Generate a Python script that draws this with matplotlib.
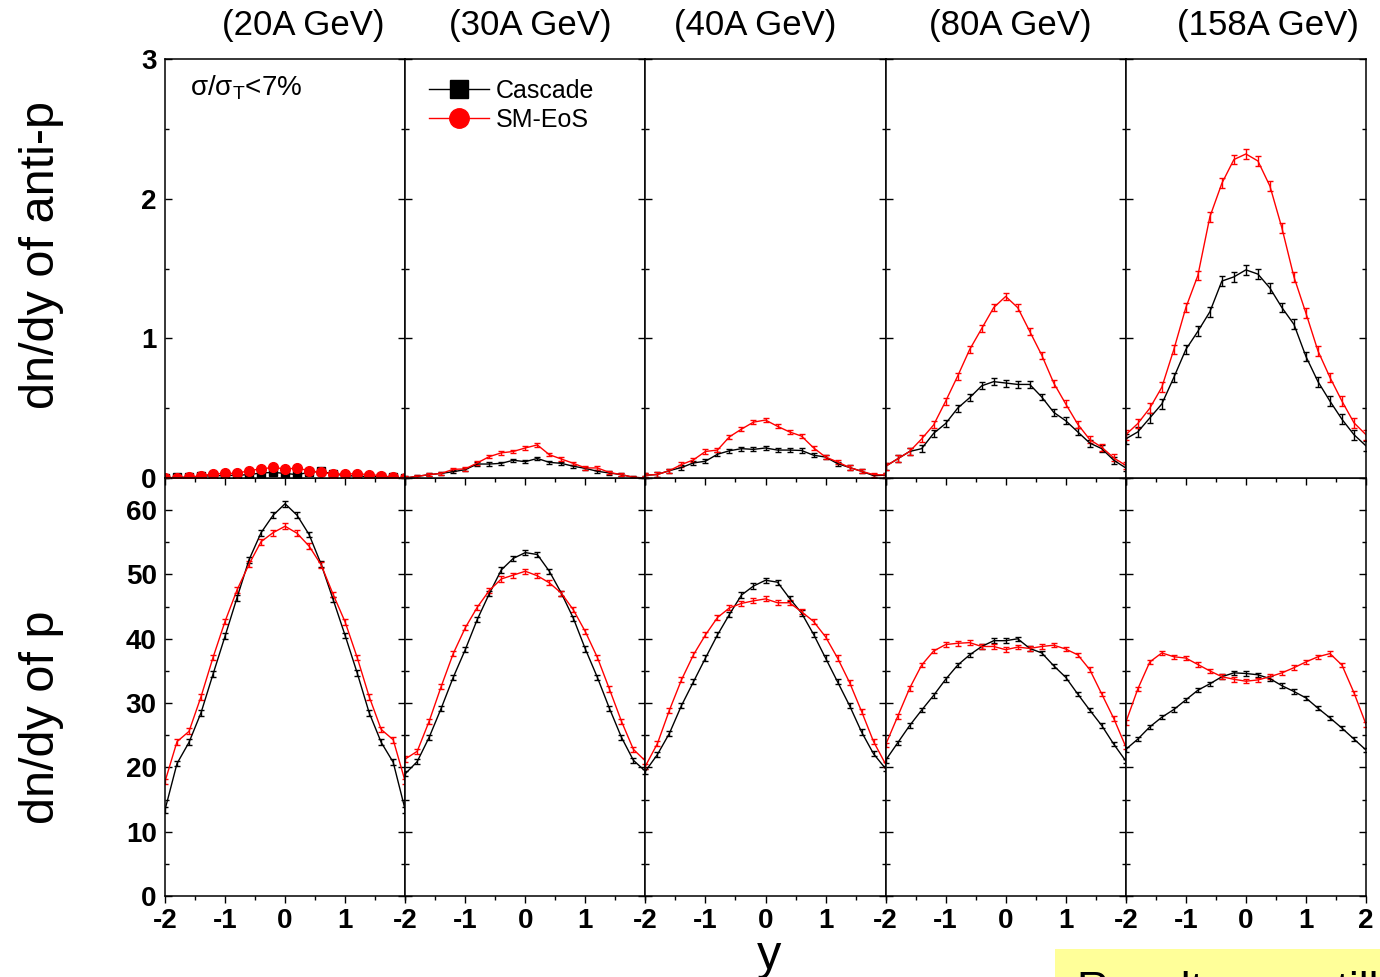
import matplotlib
matplotlib.use('Agg')
import matplotlib.pyplot as plt
from matplotlib.ticker import MultipleLocator, FixedLocator
from matplotlib.lines import Line2D

plt.rcParams['font.family'] = ['Liberation Sans', 'DejaVu Sans']
plt.rcParams['mathtext.fontset'] = 'custom'
plt.rcParams['mathtext.rm'] = 'Liberation Sans'
plt.rcParams['mathtext.it'] = 'Liberation Sans:italic'
plt.rcParams['axes.unicode_minus'] = False

# ---------------- data ----------------
rapidity = [-2.0, -1.8, -1.6, -1.4, -1.2, -1.0, -0.8, -0.6, -0.4, -0.2, 0.0,
            0.2, 0.4, 0.6, 0.8, 1.0, 1.2, 1.4, 1.6, 1.8, 2.0]
energies = ['(20A GeV)', '(30A GeV)', '(40A GeV)', '(80A GeV)', '(158A GeV)']

# anti-proton dn/dy (top row)
pbar_cas_20 = [0.0, 0.005, 0.005, 0.012, 0.017, 0.017, 0.02, 0.024, 0.036, 0.04, 0.033,
               0.024, 0.04, 0.048, 0.029, 0.017, 0.014, 0.01, 0.01, 0.005, 0.0]
pbar_sm_20 = [0.0, 0.003, 0.005, 0.017, 0.029, 0.033, 0.033, 0.053, 0.065, 0.076, 0.065,
              0.07, 0.053, 0.04, 0.029, 0.029, 0.03, 0.024, 0.017, 0.005, 0.0]
pbar_cas_30 = [0.0, 0.012, 0.024, 0.033, 0.045, 0.06, 0.10, 0.10, 0.105, 0.127, 0.117,
               0.14, 0.112, 0.105, 0.084, 0.069, 0.048, 0.036, 0.024, 0.005, 0.0]
pbar_sm_30 = [0.0, 0.012, 0.024, 0.033, 0.062, 0.065, 0.108, 0.153, 0.18, 0.19, 0.215,
              0.237, 0.167, 0.136, 0.105, 0.072, 0.072, 0.04, 0.024, 0.005, 0.0]
pbar_cas_40 = [0.02, 0.025, 0.053, 0.075, 0.108, 0.12, 0.17, 0.195, 0.21, 0.205, 0.215,
               0.20, 0.20, 0.197, 0.163, 0.15, 0.103, 0.075, 0.048, 0.017, 0.02]
pbar_sm_40 = [0.02, 0.025, 0.053, 0.096, 0.13, 0.19, 0.20, 0.295, 0.35, 0.40, 0.415,
              0.37, 0.33, 0.30, 0.216, 0.15, 0.115, 0.075, 0.048, 0.024, 0.022]
pbar_cas_80 = [0.084, 0.137, 0.19, 0.21, 0.32, 0.39, 0.50, 0.575, 0.66, 0.69, 0.68,
               0.67, 0.67, 0.58, 0.47, 0.41, 0.33, 0.25, 0.21, 0.127, 0.072]
pbar_sm_80 = [0.084, 0.137, 0.19, 0.28, 0.38, 0.55, 0.73, 0.92, 1.07, 1.22, 1.30,
              1.22, 1.05, 0.88, 0.68, 0.53, 0.385, 0.275, 0.22, 0.144, 0.09]
pbar_cas_158 = [0.28, 0.33, 0.43, 0.53, 0.72, 0.92, 1.05, 1.19, 1.41, 1.44, 1.49,
                1.46, 1.36, 1.22, 1.10, 0.87, 0.69, 0.55, 0.42, 0.31, 0.23]
pbar_sm_158 = [0.31, 0.39, 0.50, 0.65, 0.92, 1.22, 1.45, 1.87, 2.11, 2.28, 2.32,
               2.27, 2.09, 1.79, 1.44, 1.18, 0.91, 0.72, 0.55, 0.395, 0.31]

# proton dn/dy (bottom row)
p_cas_20 = [13.4, 20.6, 23.9, 28.5, 34.5, 40.4, 46.4, 52.3, 56.5, 59.2, 61.0,
            59.2, 56.2, 51.6, 46.1, 40.5, 34.7, 28.5, 23.9, 20.8, 13.4]
p_sm_20 = [17.8, 24.0, 25.6, 31.0, 37.1, 42.7, 47.6, 51.6, 55.1, 56.5, 57.5,
           56.4, 54.4, 51.5, 46.9, 42.6, 37.1, 31.0, 25.9, 24.3, 17.8]
p_cas_30 = [19.0, 20.9, 24.7, 29.2, 34.0, 38.3, 43.0, 47.0, 50.7, 52.5, 53.4,
            53.1, 50.5, 47.1, 43.2, 38.4, 34.0, 29.2, 24.7, 21.1, 19.4]
p_sm_30 = [21.3, 22.5, 27.2, 32.6, 37.7, 41.7, 44.9, 47.5, 49.3, 49.9, 50.5,
           49.8, 48.7, 47.1, 44.5, 41.1, 37.1, 32.2, 27.2, 22.8, 21.0]
p_cas_40 = [19.4, 22.0, 25.3, 29.6, 33.3, 37.0, 40.6, 43.8, 46.8, 48.2, 49.1,
            48.8, 46.3, 44.0, 40.7, 37.0, 33.3, 29.6, 25.5, 22.1, 19.8]
p_sm_40 = [20.2, 23.7, 28.9, 33.6, 37.5, 40.6, 43.3, 44.8, 45.5, 45.9, 46.2,
           45.6, 45.6, 44.2, 42.7, 40.3, 37.0, 33.2, 28.7, 24.0, 20.5]
p_cas_80 = [21.1, 23.8, 26.5, 28.9, 31.2, 33.7, 35.9, 37.5, 38.8, 39.7, 39.7,
            40.0, 38.5, 37.8, 35.8, 34.0, 31.4, 28.9, 26.5, 23.6, 21.0]
p_sm_80 = [23.5, 27.9, 32.3, 35.9, 38.1, 39.1, 39.3, 39.4, 38.8, 38.8, 38.3,
           38.7, 38.5, 38.8, 39.0, 38.4, 37.5, 35.2, 31.4, 27.6, 23.2]
p_cas_158 = [22.8, 24.4, 26.3, 27.8, 29.0, 30.5, 32.0, 33.0, 34.1, 34.7, 34.6,
             34.4, 33.8, 32.7, 31.8, 30.8, 29.2, 27.7, 26.1, 24.4, 22.7]
p_sm_158 = [27.0, 32.2, 36.4, 37.8, 37.2, 37.0, 36.0, 35.0, 34.1, 33.7, 33.4,
            33.6, 34.1, 34.7, 35.5, 36.4, 37.2, 37.7, 35.9, 31.6, 26.7]

# statistical errors (approximate, per panel)
pbar_err = [0.01, 0.012, 0.015, 0.025, 0.035]
p_err = [0.45, 0.4, 0.4, 0.35, 0.35]

pbar_cas = [pbar_cas_20, pbar_cas_30, pbar_cas_40, pbar_cas_80, pbar_cas_158]
pbar_sm = [pbar_sm_20, pbar_sm_30, pbar_sm_40, pbar_sm_80, pbar_sm_158]
p_cas = [p_cas_20, p_cas_30, p_cas_40, p_cas_80, p_cas_158]
p_sm = [p_sm_20, p_sm_30, p_sm_40, p_sm_80, p_sm_158]

# ---------------- figure ----------------
W, H = 1380, 977
fig = plt.figure(figsize=(W / 100, H / 100), dpi=100)

edges = [165, 405.2, 645.4, 885.6, 1125.8, 1366]
TOP_T, MID, BOT_B = 59, 478, 896


def rect(x0, x1, yt, yb):
    return [x0 / W, 1 - yb / H, (x1 - x0) / W, (yb - yt) / H]


RED = '#ff0000'


def style(ax, first):
    for s in ax.spines.values():
        s.set_linewidth(1.1)
        s.set_color('black')
    ax.tick_params(axis='y', which='both', direction='in', left=True, right=True,
                   width=1)
    ax.tick_params(axis='y', which='major', length=5)
    ax.tick_params(axis='y', which='minor', length=3)
    ax.tick_params(axis='x', which='both', direction='out', bottom=True, top=False,
                   width=1)
    ax.tick_params(axis='x', which='major', length=5)
    ax.tick_params(axis='x', which='minor', length=3)
    ax.tick_params(labelleft=first)
    for lab in ax.get_xticklabels() + ax.get_yticklabels():
        lab.set_fontsize(20)
        lab.set_fontweight('bold')


eb_kw = dict(lw=1.0, elinewidth=1.0, capsize=2.5, capthick=1.0)

# bottom row first (so the top-row outward ticks draw over it)
for i in range(5):
    ax = fig.add_axes(rect(edges[i], edges[i + 1], MID, BOT_B))
    ax.errorbar(rapidity, p_cas[i], yerr=p_err[i], color='black', **eb_kw)
    ax.errorbar(rapidity, p_sm[i], yerr=p_err[i], color=RED, **eb_kw)
    ax.set_xlim(-2, 2)
    ax.set_ylim(0, 65)
    ax.xaxis.set_major_locator(FixedLocator([-2, -1, 0, 1, 2] if i == 4 else [-2, -1, 0, 1]))
    ax.xaxis.set_minor_locator(MultipleLocator(0.5))
    ax.yaxis.set_major_locator(MultipleLocator(10))
    ax.yaxis.set_minor_locator(MultipleLocator(5))
    ax.tick_params(axis='x', pad=4)
    ax.tick_params(axis='y', pad=6)
    style(ax, i == 0)

top_axes = []
for i in range(5):
    ax = fig.add_axes(rect(edges[i], edges[i + 1], TOP_T, MID))
    if i == 0:
        ax.errorbar(rapidity, pbar_cas[i], yerr=pbar_err[i], color='black',
                    marker='s', markersize=6, **eb_kw)
        ax.errorbar(rapidity, pbar_sm[i], yerr=pbar_err[i], color=RED,
                    marker='o', markersize=7, **eb_kw)
    else:
        ax.errorbar(rapidity, pbar_cas[i], yerr=pbar_err[i], color='black', **eb_kw)
        ax.errorbar(rapidity, pbar_sm[i], yerr=pbar_err[i], color=RED, **eb_kw)
    ax.set_xlim(-2, 2)
    ax.set_ylim(0, 3)
    ax.xaxis.set_major_locator(FixedLocator([-2, -1, 0, 1, 2]))
    ax.xaxis.set_minor_locator(MultipleLocator(0.5))
    ax.yaxis.set_major_locator(MultipleLocator(1))
    ax.yaxis.set_minor_locator(MultipleLocator(0.5))
    ax.tick_params(axis='y', pad=6)
    style(ax, i == 0)
    ax.tick_params(labelbottom=False)
    top_axes.append(ax)

# centrality label
top_axes[0].text(0.105, 0.932, r'σ/σ$_{\mathrm{T}}$<7%', transform=top_axes[0].transAxes,
                 fontsize=20, ha='left', va='center')

# legend
handles = [Line2D([], [], color='black', lw=1, marker='s', markersize=13),
           Line2D([], [], color=RED, lw=1, marker='o', markersize=14)]
top_axes[1].legend(handles, ['Cascade', 'SM-EoS'], loc='upper left',
                   bbox_to_anchor=(0.10, 0.953), frameon=False, fontsize=18,
                   handlelength=2.4, handletextpad=0.25, labelspacing=0.22,
                   borderpad=0, borderaxespad=0)

# column titles
title_x = [303, 530, 755, 1010, 1268]
for tx, t in zip(title_x, energies):
    fig.text(tx / W, 1 - 25 / H, t, fontsize=25, ha='center', va='center')

# axis labels
fig.text(42 / W, 1 - 255 / H, 'dn/dy of anti-p', rotation=90, fontsize=35,
         ha='center', va='center')
fig.text(42 / W, 1 - 717 / H, 'dn/dy of p', rotation=90, fontsize=35,
         ha='center', va='center')
fig.text(769 / W, 1 - 969 / H, 'y', fontsize=35, ha='center', va='baseline')

# yellow note box (cut off at the bottom edge)
fig.text(1077 / W, 1 - 971 / H, 'Results are still preliminary', fontsize=32,
         ha='left', va='top',
         bbox=dict(boxstyle='square,pad=0.5', facecolor='#ffff99', edgecolor='none'))

fig.savefig('out.png', dpi=100)
